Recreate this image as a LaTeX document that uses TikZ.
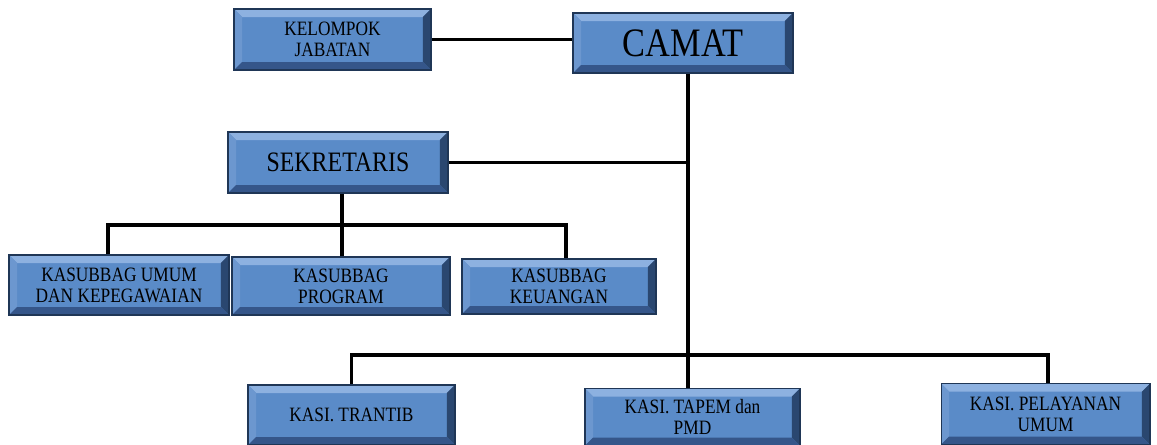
\documentclass[tikz,border=0pt]{standalone}
\usepackage{fontspec}
\setmainfont{Liberation Serif}[FakeStretch=0.85]
\definecolor{boxface}{HTML}{5A8BC8}
\definecolor{boxtop}{HTML}{8DB1E0}
\definecolor{boxleft}{HTML}{6C97CF}
\definecolor{boxright}{HTML}{2A4770}
\definecolor{boxbottom}{HTML}{35568A}
\definecolor{boxedge}{HTML}{1F3656}
\newcommand\bv{0.16cm}
\begin{document}
\begin{tikzpicture}[x=0.02cm,y=-0.02cm,
  unit/.style={draw=boxedge,line width=0.6pt,fill=boxface,align=center,inner sep=0pt,
    font=\fontsize{11.6}{12}\selectfont,
    path picture={
      \coordinate (pnw) at (path picture bounding box.north west);
      \coordinate (pne) at (path picture bounding box.north east);
      \coordinate (psw) at (path picture bounding box.south west);
      \coordinate (pse) at (path picture bounding box.south east);
      \coordinate (qnw) at ([shift={(\bv,-\bv)}]pnw);
      \coordinate (qne) at ([shift={(-\bv,-\bv)}]pne);
      \coordinate (qsw) at ([shift={(\bv,\bv)}]psw);
      \coordinate (qse) at ([shift={(-\bv,\bv)}]pse);
      \fill[boxtop] (pnw) -- (pne) -- (qne) -- (qnw) -- cycle;
      \fill[boxleft] (pnw) -- (qnw) -- (qsw) -- (psw) -- cycle;
      \fill[boxright] (pne) -- (pse) -- (qse) -- (qne) -- cycle;
      \fill[boxbottom] (psw) -- (qsw) -- (qse) -- (pse) -- cycle;
    }},
  link/.style={line width=2.2pt}]
\useasboundingbox (0,0) rectangle (1157,444);
\node[unit,minimum width=3.94cm,minimum height=1.22cm] (kel) at (332.5,39.5) {KELOMPOK\\JABATAN};
\node[unit,font=\fontsize{23}{24}\selectfont,minimum width=4.4cm,minimum height=1.2cm] (camat) at (683,43) {CAMAT};
\node[unit,font=\fontsize{16}{17}\selectfont,minimum width=4.4cm,minimum height=1.22cm] (sek) at (338,162.5) {SEKRETARIS};
\node[unit,minimum width=4.4cm,minimum height=1.2cm] (umum) at (119,285) {KASUBBAG UMUM\\DAN KEPEGAWAIAN};
\node[unit,minimum width=4.36cm,minimum height=1.16cm] (prog) at (341,286) {KASUBBAG\\PROGRAM};
\node[unit,minimum width=3.88cm,minimum height=1.1cm] (keu) at (559,286.5) {KASUBBAG\\KEUANGAN};
\node[unit,minimum width=4.14cm,minimum height=1.2cm] (trantib) at (351.5,415) {KASI. TRANTIB};
\node[unit,minimum width=4.3cm,minimum height=1.14cm] (tapem) at (692.5,417) {KASI. TAPEM dan\\PMD};
\node[unit,minimum width=4.18cm,minimum height=1.22cm] (pel) at (1045.5,414) {KASI. PELAYANAN\\UMUM};
\coordinate (trunk) at (688,355);
\coordinate (subbus) at (342,225);
\draw[link] (kel.east) -- (kel.east -| camat.west);
\draw[link] (camat.south -| trunk) -- (trunk);
\draw[link] (sek.east) -- (sek.east -| trunk);
\draw[link] (sek.south -| subbus) -- (subbus);
\draw[link] ([xshift=-0.22cm]umum.north) |- (subbus) -| ([xshift=0.14cm]keu.north);
\draw[link] (prog.north -| subbus) -- (subbus);
\draw[link] (trantib.north) |- (trunk) -| ([xshift=0.05cm]pel.north);
\draw[link] (tapem.north -| trunk) -- (trunk);
\end{tikzpicture}
\end{document}
